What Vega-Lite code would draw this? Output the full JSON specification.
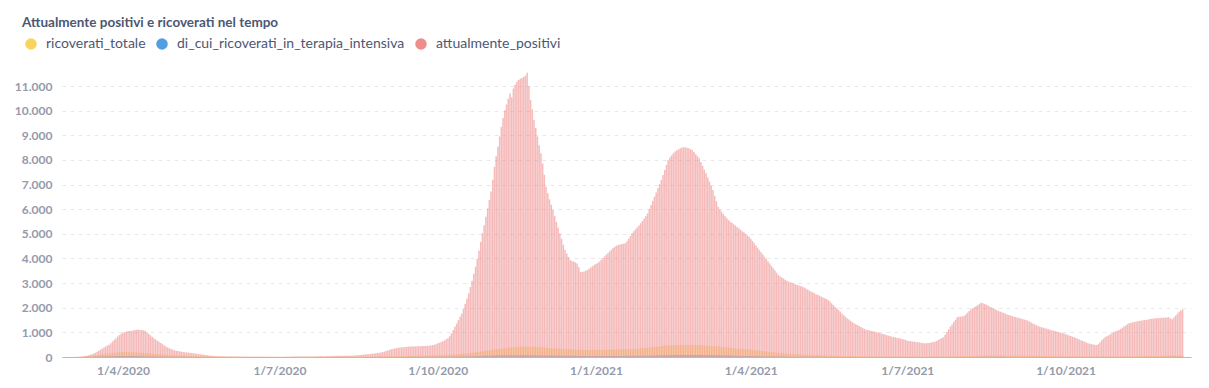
{
"$schema":"https://vega.github.io/schema/vega-lite/v6.json",
"width":1129,"height":285,
"autosize":{"type":"none"},
"padding":{"left":62,"top":72,"right":18,"bottom":31},
"background":"white",
"title":{"text":"Attualmente positivi e ricoverati nel tempo","anchor":"start","frame":"group","orient":"top","dx":-40,"offset":8,"font":"Lato","fontSize":13.5,"fontWeight":"bold","color":"#4C5773"},
"data":{"values":[
{"d":"2020-02-29","p":0,"r":0,"t":0},
{"d":"2020-03-01","p":0,"r":0,"t":0},{"d":"2020-03-02","p":1,"r":0,"t":0},{"d":"2020-03-03","p":3,"r":1,"t":0},{"d":"2020-03-04","p":5,"r":2,"t":0},{"d":"2020-03-05","p":8,"r":3,"t":1},{"d":"2020-03-06","p":10,"r":5,"t":1},{"d":"2020-03-07","p":15,"r":7,"t":2},{"d":"2020-03-08","p":20,"r":10,"t":3},{"d":"2020-03-09","p":28,"r":14,"t":4},{"d":"2020-03-10","p":40,"r":20,"t":5},
{"d":"2020-03-11","p":55,"r":26,"t":6},{"d":"2020-03-12","p":70,"r":33,"t":8},{"d":"2020-03-13","p":90,"r":40,"t":10},{"d":"2020-03-14","p":110,"r":48,"t":12},{"d":"2020-03-15","p":140,"r":56,"t":14},{"d":"2020-03-16","p":175,"r":65,"t":16},{"d":"2020-03-17","p":210,"r":75,"t":18},{"d":"2020-03-18","p":255,"r":85,"t":20},{"d":"2020-03-19","p":300,"r":95,"t":22},{"d":"2020-03-20","p":345,"r":105,"t":24},
{"d":"2020-03-21","p":390,"r":115,"t":26},{"d":"2020-03-22","p":430,"r":125,"t":28},{"d":"2020-03-23","p":465,"r":135,"t":30},{"d":"2020-03-24","p":500,"r":145,"t":32},{"d":"2020-03-25","p":560,"r":155,"t":34},{"d":"2020-03-26","p":630,"r":165,"t":36},{"d":"2020-03-27","p":700,"r":172,"t":38},{"d":"2020-03-28","p":760,"r":180,"t":40},{"d":"2020-03-29","p":830,"r":186,"t":41},{"d":"2020-03-30","p":890,"r":192,"t":42},{"d":"2020-03-31","p":940,"r":196,"t":43},
{"d":"2020-04-01","p":980,"r":198,"t":44},{"d":"2020-04-02","p":1010,"r":200,"t":45},{"d":"2020-04-03","p":1030,"r":200,"t":45},{"d":"2020-04-04","p":1045,"r":198,"t":44},{"d":"2020-04-05","p":1055,"r":195,"t":43},{"d":"2020-04-06","p":1065,"r":192,"t":42},{"d":"2020-04-07","p":1080,"r":188,"t":41},{"d":"2020-04-08","p":1095,"r":184,"t":40},{"d":"2020-04-09","p":1105,"r":180,"t":39},{"d":"2020-04-10","p":1110,"r":175,"t":38},
{"d":"2020-04-11","p":1100,"r":170,"t":36},{"d":"2020-04-12","p":1095,"r":165,"t":34},{"d":"2020-04-13","p":1080,"r":160,"t":32},{"d":"2020-04-14","p":1050,"r":155,"t":30},{"d":"2020-04-15","p":1000,"r":150,"t":28},{"d":"2020-04-16","p":940,"r":145,"t":26},{"d":"2020-04-17","p":880,"r":140,"t":24},{"d":"2020-04-18","p":820,"r":134,"t":22},{"d":"2020-04-19","p":760,"r":128,"t":20},{"d":"2020-04-20","p":710,"r":122,"t":19},
{"d":"2020-04-21","p":660,"r":116,"t":18},{"d":"2020-04-22","p":620,"r":110,"t":17},{"d":"2020-04-23","p":570,"r":104,"t":16},{"d":"2020-04-24","p":520,"r":98,"t":15},{"d":"2020-04-25","p":470,"r":93,"t":14},{"d":"2020-04-26","p":430,"r":88,"t":13},{"d":"2020-04-27","p":390,"r":83,"t":12},{"d":"2020-04-28","p":350,"r":78,"t":11},{"d":"2020-04-29","p":320,"r":74,"t":10},{"d":"2020-04-30","p":290,"r":70,"t":10},
{"d":"2020-05-01","p":270,"r":67,"t":9},{"d":"2020-05-02","p":255,"r":64,"t":9},{"d":"2020-05-03","p":240,"r":61,"t":8},{"d":"2020-05-04","p":225,"r":58,"t":8},{"d":"2020-05-05","p":215,"r":55,"t":7},{"d":"2020-05-06","p":205,"r":52,"t":7},{"d":"2020-05-07","p":195,"r":50,"t":6},{"d":"2020-05-08","p":185,"r":48,"t":6},{"d":"2020-05-09","p":178,"r":46,"t":6},{"d":"2020-05-10","p":170,"r":44,"t":5},
{"d":"2020-05-11","p":162,"r":42,"t":5},{"d":"2020-05-12","p":150,"r":40,"t":5},{"d":"2020-05-13","p":140,"r":38,"t":4},{"d":"2020-05-14","p":130,"r":36,"t":4},{"d":"2020-05-15","p":120,"r":34,"t":4},{"d":"2020-05-16","p":110,"r":32,"t":4},{"d":"2020-05-17","p":100,"r":30,"t":3},{"d":"2020-05-18","p":90,"r":29,"t":3},{"d":"2020-05-19","p":80,"r":28,"t":3},{"d":"2020-05-20","p":70,"r":27,"t":3},
{"d":"2020-05-21","p":60,"r":26,"t":3},{"d":"2020-05-22","p":50,"r":25,"t":2},{"d":"2020-05-23","p":42,"r":24,"t":2},{"d":"2020-05-24","p":38,"r":23,"t":2},{"d":"2020-05-25","p":35,"r":22,"t":2},{"d":"2020-05-26","p":32,"r":21,"t":2},{"d":"2020-05-27","p":30,"r":20,"t":2},{"d":"2020-05-28","p":28,"r":19,"t":2},{"d":"2020-05-29","p":26,"r":18,"t":1},{"d":"2020-05-30","p":25,"r":17,"t":1},{"d":"2020-05-31","p":24,"r":16,"t":1},
{"d":"2020-06-01","p":23,"r":15,"t":1},{"d":"2020-06-02","p":22,"r":15,"t":1},{"d":"2020-06-03","p":21,"r":14,"t":1},{"d":"2020-06-04","p":20,"r":14,"t":1},{"d":"2020-06-05","p":20,"r":13,"t":1},{"d":"2020-06-06","p":19,"r":13,"t":1},{"d":"2020-06-07","p":18,"r":12,"t":1},{"d":"2020-06-08","p":18,"r":12,"t":1},{"d":"2020-06-09","p":17,"r":11,"t":1},{"d":"2020-06-10","p":16,"r":11,"t":0},
{"d":"2020-06-11","p":16,"r":10,"t":0},{"d":"2020-06-12","p":15,"r":10,"t":0},{"d":"2020-06-13","p":15,"r":10,"t":0},{"d":"2020-06-14","p":14,"r":9,"t":0},{"d":"2020-06-15","p":14,"r":9,"t":0},{"d":"2020-06-16","p":13,"r":9,"t":0},{"d":"2020-06-17","p":13,"r":8,"t":0},{"d":"2020-06-18","p":12,"r":8,"t":0},{"d":"2020-06-19","p":12,"r":8,"t":0},{"d":"2020-06-20","p":12,"r":7,"t":0},
{"d":"2020-06-21","p":11,"r":7,"t":0},{"d":"2020-06-22","p":11,"r":7,"t":0},{"d":"2020-06-23","p":11,"r":6,"t":0},{"d":"2020-06-24","p":10,"r":6,"t":0},{"d":"2020-06-25","p":10,"r":6,"t":0},{"d":"2020-06-26","p":10,"r":6,"t":0},{"d":"2020-06-27","p":10,"r":5,"t":0},{"d":"2020-06-28","p":10,"r":5,"t":0},{"d":"2020-06-29","p":11,"r":5,"t":0},{"d":"2020-06-30","p":11,"r":5,"t":0},
{"d":"2020-07-01","p":12,"r":5,"t":0},{"d":"2020-07-02","p":12,"r":5,"t":0},{"d":"2020-07-03","p":13,"r":5,"t":0},{"d":"2020-07-04","p":13,"r":6,"t":0},{"d":"2020-07-05","p":14,"r":6,"t":0},{"d":"2020-07-06","p":15,"r":6,"t":0},{"d":"2020-07-07","p":15,"r":6,"t":0},{"d":"2020-07-08","p":16,"r":7,"t":0},{"d":"2020-07-09","p":16,"r":7,"t":0},{"d":"2020-07-10","p":17,"r":7,"t":0},
{"d":"2020-07-11","p":18,"r":7,"t":0},{"d":"2020-07-12","p":18,"r":8,"t":0},{"d":"2020-07-13","p":19,"r":8,"t":0},{"d":"2020-07-14","p":20,"r":8,"t":0},{"d":"2020-07-15","p":20,"r":8,"t":0},{"d":"2020-07-16","p":21,"r":9,"t":0},{"d":"2020-07-17","p":22,"r":9,"t":0},{"d":"2020-07-18","p":22,"r":9,"t":0},{"d":"2020-07-19","p":23,"r":10,"t":0},{"d":"2020-07-20","p":24,"r":10,"t":0},
{"d":"2020-07-21","p":25,"r":10,"t":0},{"d":"2020-07-22","p":26,"r":11,"t":0},{"d":"2020-07-23","p":27,"r":11,"t":0},{"d":"2020-07-24","p":28,"r":11,"t":0},{"d":"2020-07-25","p":30,"r":12,"t":0},{"d":"2020-07-26","p":31,"r":12,"t":1},{"d":"2020-07-27","p":33,"r":12,"t":1},{"d":"2020-07-28","p":35,"r":13,"t":1},{"d":"2020-07-29","p":37,"r":13,"t":1},{"d":"2020-07-30","p":40,"r":14,"t":1},{"d":"2020-07-31","p":42,"r":14,"t":1},
{"d":"2020-08-01","p":44,"r":14,"t":1},{"d":"2020-08-02","p":46,"r":15,"t":1},{"d":"2020-08-03","p":47,"r":15,"t":1},{"d":"2020-08-04","p":48,"r":15,"t":1},{"d":"2020-08-05","p":49,"r":16,"t":1},{"d":"2020-08-06","p":50,"r":16,"t":1},{"d":"2020-08-07","p":51,"r":16,"t":1},{"d":"2020-08-08","p":52,"r":17,"t":1},{"d":"2020-08-09","p":53,"r":17,"t":1},{"d":"2020-08-10","p":54,"r":17,"t":1},
{"d":"2020-08-11","p":55,"r":18,"t":1},{"d":"2020-08-12","p":57,"r":18,"t":1},{"d":"2020-08-13","p":60,"r":18,"t":1},{"d":"2020-08-14","p":64,"r":19,"t":1},{"d":"2020-08-15","p":68,"r":19,"t":1},{"d":"2020-08-16","p":73,"r":20,"t":1},{"d":"2020-08-17","p":80,"r":20,"t":2},{"d":"2020-08-18","p":88,"r":21,"t":2},{"d":"2020-08-19","p":96,"r":21,"t":2},{"d":"2020-08-20","p":104,"r":22,"t":2},
{"d":"2020-08-21","p":112,"r":22,"t":2},{"d":"2020-08-22","p":120,"r":23,"t":2},{"d":"2020-08-23","p":128,"r":23,"t":2},{"d":"2020-08-24","p":135,"r":24,"t":2},{"d":"2020-08-25","p":142,"r":24,"t":2},{"d":"2020-08-26","p":150,"r":25,"t":2},{"d":"2020-08-27","p":160,"r":26,"t":3},{"d":"2020-08-28","p":170,"r":27,"t":3},{"d":"2020-08-29","p":185,"r":28,"t":3},{"d":"2020-08-30","p":200,"r":29,"t":3},{"d":"2020-08-31","p":215,"r":30,"t":3},
{"d":"2020-09-01","p":240,"r":31,"t":3},{"d":"2020-09-02","p":265,"r":32,"t":3},{"d":"2020-09-03","p":290,"r":33,"t":3},{"d":"2020-09-04","p":312,"r":34,"t":4},{"d":"2020-09-05","p":330,"r":35,"t":4},{"d":"2020-09-06","p":345,"r":36,"t":4},{"d":"2020-09-07","p":360,"r":37,"t":4},{"d":"2020-09-08","p":372,"r":38,"t":4},{"d":"2020-09-09","p":382,"r":39,"t":5},{"d":"2020-09-10","p":390,"r":40,"t":5},
{"d":"2020-09-11","p":398,"r":41,"t":5},{"d":"2020-09-12","p":405,"r":42,"t":5},{"d":"2020-09-13","p":412,"r":43,"t":5},{"d":"2020-09-14","p":418,"r":44,"t":5},{"d":"2020-09-15","p":422,"r":45,"t":6},{"d":"2020-09-16","p":425,"r":46,"t":6},{"d":"2020-09-17","p":428,"r":47,"t":6},{"d":"2020-09-18","p":430,"r":48,"t":6},{"d":"2020-09-19","p":432,"r":49,"t":6},{"d":"2020-09-20","p":435,"r":50,"t":7},
{"d":"2020-09-21","p":438,"r":51,"t":7},{"d":"2020-09-22","p":442,"r":52,"t":7},{"d":"2020-09-23","p":446,"r":53,"t":7},{"d":"2020-09-24","p":450,"r":54,"t":8},{"d":"2020-09-25","p":455,"r":55,"t":8},{"d":"2020-09-26","p":460,"r":56,"t":8},{"d":"2020-09-27","p":470,"r":58,"t":8},{"d":"2020-09-28","p":485,"r":60,"t":9},{"d":"2020-09-29","p":500,"r":62,"t":9},{"d":"2020-09-30","p":520,"r":65,"t":9},
{"d":"2020-10-01","p":555,"r":68,"t":10},{"d":"2020-10-02","p":580,"r":71,"t":10},{"d":"2020-10-03","p":610,"r":74,"t":11},{"d":"2020-10-04","p":640,"r":77,"t":11},{"d":"2020-10-05","p":680,"r":80,"t":12},{"d":"2020-10-06","p":720,"r":84,"t":12},{"d":"2020-10-07","p":760,"r":88,"t":13},{"d":"2020-10-08","p":850,"r":92,"t":14},{"d":"2020-10-09","p":960,"r":96,"t":15},{"d":"2020-10-10","p":1090,"r":100,"t":16},
{"d":"2020-10-11","p":1230,"r":105,"t":17},{"d":"2020-10-12","p":1360,"r":110,"t":18},{"d":"2020-10-13","p":1500,"r":116,"t":19},{"d":"2020-10-14","p":1630,"r":122,"t":20},{"d":"2020-10-15","p":1770,"r":128,"t":21},{"d":"2020-10-16","p":1950,"r":135,"t":22},{"d":"2020-10-17","p":2150,"r":142,"t":24},{"d":"2020-10-18","p":2360,"r":150,"t":26},{"d":"2020-10-19","p":2585,"r":158,"t":28},{"d":"2020-10-20","p":2840,"r":166,"t":30},
{"d":"2020-10-21","p":3100,"r":175,"t":32},{"d":"2020-10-22","p":3380,"r":185,"t":34},{"d":"2020-10-23","p":3665,"r":195,"t":36},{"d":"2020-10-24","p":3990,"r":205,"t":38},{"d":"2020-10-25","p":4320,"r":215,"t":40},{"d":"2020-10-26","p":4670,"r":225,"t":42},{"d":"2020-10-27","p":5020,"r":235,"t":44},{"d":"2020-10-28","p":5350,"r":245,"t":46},{"d":"2020-10-29","p":5690,"r":255,"t":48},{"d":"2020-10-30","p":6030,"r":265,"t":50},{"d":"2020-10-31","p":6370,"r":275,"t":52},
{"d":"2020-11-01","p":6720,"r":285,"t":54},{"d":"2020-11-02","p":7200,"r":295,"t":56},{"d":"2020-11-03","p":7720,"r":305,"t":58},{"d":"2020-11-04","p":8150,"r":315,"t":60},{"d":"2020-11-05","p":8550,"r":325,"t":62},{"d":"2020-11-06","p":8950,"r":335,"t":64},{"d":"2020-11-07","p":9345,"r":345,"t":66},{"d":"2020-11-08","p":9700,"r":355,"t":67},{"d":"2020-11-09","p":10020,"r":365,"t":68},{"d":"2020-11-10","p":10250,"r":372,"t":69},
{"d":"2020-11-11","p":10480,"r":380,"t":70},{"d":"2020-11-12","p":10700,"r":387,"t":71},{"d":"2020-11-13","p":10550,"r":394,"t":72},{"d":"2020-11-14","p":10900,"r":400,"t":73},{"d":"2020-11-15","p":11050,"r":405,"t":73},{"d":"2020-11-16","p":11170,"r":410,"t":74},{"d":"2020-11-17","p":11250,"r":414,"t":74},{"d":"2020-11-18","p":11300,"r":418,"t":74},{"d":"2020-11-19","p":11330,"r":421,"t":74},{"d":"2020-11-20","p":11370,"r":424,"t":73},
{"d":"2020-11-21","p":11420,"r":426,"t":73},{"d":"2020-11-22","p":11540,"r":428,"t":72},{"d":"2020-11-23","p":11000,"r":428,"t":71},{"d":"2020-11-24","p":10430,"r":426,"t":70},{"d":"2020-11-25","p":10050,"r":422,"t":69},{"d":"2020-11-26","p":9620,"r":418,"t":68},{"d":"2020-11-27","p":9300,"r":413,"t":67},{"d":"2020-11-28","p":8950,"r":408,"t":66},{"d":"2020-11-29","p":8600,"r":402,"t":65},{"d":"2020-11-30","p":8270,"r":396,"t":64},
{"d":"2020-12-01","p":7850,"r":390,"t":63},{"d":"2020-12-02","p":7400,"r":384,"t":62},{"d":"2020-12-03","p":6910,"r":378,"t":61},{"d":"2020-12-04","p":6650,"r":372,"t":60},{"d":"2020-12-05","p":6400,"r":366,"t":59},{"d":"2020-12-06","p":6180,"r":360,"t":58},{"d":"2020-12-07","p":5970,"r":354,"t":57},{"d":"2020-12-08","p":5720,"r":349,"t":56},{"d":"2020-12-09","p":5480,"r":344,"t":55},{"d":"2020-12-10","p":5250,"r":339,"t":54},
{"d":"2020-12-11","p":5020,"r":334,"t":53},{"d":"2020-12-12","p":4800,"r":330,"t":52},{"d":"2020-12-13","p":4560,"r":326,"t":51},{"d":"2020-12-14","p":4340,"r":322,"t":50},{"d":"2020-12-15","p":4200,"r":318,"t":49},{"d":"2020-12-16","p":4060,"r":314,"t":48},{"d":"2020-12-17","p":3940,"r":310,"t":47},{"d":"2020-12-18","p":3900,"r":306,"t":46},{"d":"2020-12-19","p":3870,"r":302,"t":45},{"d":"2020-12-20","p":3840,"r":298,"t":44},
{"d":"2020-12-21","p":3800,"r":295,"t":43},{"d":"2020-12-22","p":3640,"r":292,"t":42},{"d":"2020-12-23","p":3460,"r":290,"t":42},{"d":"2020-12-24","p":3450,"r":288,"t":41},{"d":"2020-12-25","p":3470,"r":287,"t":41},{"d":"2020-12-26","p":3500,"r":286,"t":40},{"d":"2020-12-27","p":3530,"r":286,"t":40},{"d":"2020-12-28","p":3580,"r":287,"t":40},{"d":"2020-12-29","p":3630,"r":288,"t":40},{"d":"2020-12-30","p":3680,"r":289,"t":40},{"d":"2020-12-31","p":3735,"r":290,"t":40},
{"d":"2021-01-01","p":3780,"r":291,"t":40},{"d":"2021-01-02","p":3820,"r":292,"t":40},{"d":"2021-01-03","p":3870,"r":293,"t":40},{"d":"2021-01-04","p":3940,"r":294,"t":40},{"d":"2021-01-05","p":4005,"r":295,"t":41},{"d":"2021-01-06","p":4080,"r":296,"t":41},{"d":"2021-01-07","p":4150,"r":297,"t":41},{"d":"2021-01-08","p":4220,"r":298,"t":42},{"d":"2021-01-09","p":4290,"r":299,"t":42},{"d":"2021-01-10","p":4360,"r":300,"t":42},
{"d":"2021-01-11","p":4420,"r":302,"t":43},{"d":"2021-01-12","p":4480,"r":304,"t":43},{"d":"2021-01-13","p":4520,"r":306,"t":43},{"d":"2021-01-14","p":4550,"r":308,"t":44},{"d":"2021-01-15","p":4570,"r":310,"t":44},{"d":"2021-01-16","p":4590,"r":312,"t":44},{"d":"2021-01-17","p":4600,"r":314,"t":45},{"d":"2021-01-18","p":4615,"r":316,"t":45},{"d":"2021-01-19","p":4700,"r":318,"t":46},{"d":"2021-01-20","p":4800,"r":320,"t":46},
{"d":"2021-01-21","p":4910,"r":322,"t":47},{"d":"2021-01-22","p":5020,"r":324,"t":47},{"d":"2021-01-23","p":5100,"r":326,"t":48},{"d":"2021-01-24","p":5180,"r":330,"t":48},{"d":"2021-01-25","p":5260,"r":335,"t":49},{"d":"2021-01-26","p":5340,"r":340,"t":50},{"d":"2021-01-27","p":5430,"r":346,"t":51},{"d":"2021-01-28","p":5520,"r":352,"t":52},{"d":"2021-01-29","p":5620,"r":358,"t":53},{"d":"2021-01-30","p":5720,"r":365,"t":54},{"d":"2021-01-31","p":5835,"r":372,"t":55},
{"d":"2021-02-01","p":6000,"r":380,"t":56},{"d":"2021-02-02","p":6170,"r":388,"t":57},{"d":"2021-02-03","p":6340,"r":396,"t":58},{"d":"2021-02-04","p":6510,"r":404,"t":59},{"d":"2021-02-05","p":6680,"r":412,"t":60},{"d":"2021-02-06","p":6850,"r":420,"t":62},{"d":"2021-02-07","p":7020,"r":428,"t":64},{"d":"2021-02-08","p":7185,"r":436,"t":66},{"d":"2021-02-09","p":7390,"r":444,"t":68},{"d":"2021-02-10","p":7590,"r":452,"t":70},
{"d":"2021-02-11","p":7800,"r":458,"t":72},{"d":"2021-02-12","p":8000,"r":464,"t":74},{"d":"2021-02-13","p":8100,"r":469,"t":76},{"d":"2021-02-14","p":8190,"r":474,"t":77},{"d":"2021-02-15","p":8270,"r":478,"t":78},{"d":"2021-02-16","p":8340,"r":482,"t":79},{"d":"2021-02-17","p":8390,"r":485,"t":80},{"d":"2021-02-18","p":8430,"r":488,"t":81},{"d":"2021-02-19","p":8470,"r":490,"t":82},{"d":"2021-02-20","p":8500,"r":492,"t":83},
{"d":"2021-02-21","p":8515,"r":494,"t":84},{"d":"2021-02-22","p":8510,"r":495,"t":84},{"d":"2021-02-23","p":8490,"r":496,"t":85},{"d":"2021-02-24","p":8470,"r":496,"t":85},{"d":"2021-02-25","p":8440,"r":495,"t":85},{"d":"2021-02-26","p":8400,"r":494,"t":85},{"d":"2021-02-27","p":8320,"r":492,"t":84},{"d":"2021-02-28","p":8230,"r":490,"t":84},
{"d":"2021-03-01","p":8150,"r":487,"t":83},{"d":"2021-03-02","p":8065,"r":484,"t":83},{"d":"2021-03-03","p":7920,"r":480,"t":82},{"d":"2021-03-04","p":7760,"r":476,"t":81},{"d":"2021-03-05","p":7610,"r":471,"t":80},{"d":"2021-03-06","p":7455,"r":466,"t":79},{"d":"2021-03-07","p":7290,"r":461,"t":78},{"d":"2021-03-08","p":7120,"r":456,"t":77},{"d":"2021-03-09","p":6950,"r":450,"t":76},{"d":"2021-03-10","p":6780,"r":444,"t":75},
{"d":"2021-03-11","p":6550,"r":438,"t":74},{"d":"2021-03-12","p":6320,"r":431,"t":72},{"d":"2021-03-13","p":6100,"r":424,"t":70},{"d":"2021-03-14","p":5990,"r":417,"t":68},{"d":"2021-03-15","p":5900,"r":410,"t":66},{"d":"2021-03-16","p":5810,"r":403,"t":64},{"d":"2021-03-17","p":5720,"r":396,"t":62},{"d":"2021-03-18","p":5640,"r":389,"t":60},{"d":"2021-03-19","p":5560,"r":382,"t":58},{"d":"2021-03-20","p":5500,"r":375,"t":56},
{"d":"2021-03-21","p":5450,"r":368,"t":54},{"d":"2021-03-22","p":5390,"r":361,"t":52},{"d":"2021-03-23","p":5340,"r":354,"t":50},{"d":"2021-03-24","p":5280,"r":347,"t":48},{"d":"2021-03-25","p":5225,"r":340,"t":46},{"d":"2021-03-26","p":5170,"r":333,"t":44},{"d":"2021-03-27","p":5110,"r":327,"t":42},{"d":"2021-03-28","p":5060,"r":321,"t":40},{"d":"2021-03-29","p":5000,"r":315,"t":39},{"d":"2021-03-30","p":4940,"r":308,"t":38},{"d":"2021-03-31","p":4885,"r":301,"t":37},
{"d":"2021-04-01","p":4800,"r":294,"t":36},{"d":"2021-04-02","p":4710,"r":286,"t":35},{"d":"2021-04-03","p":4620,"r":278,"t":34},{"d":"2021-04-04","p":4530,"r":270,"t":33},{"d":"2021-04-05","p":4440,"r":262,"t":32},{"d":"2021-04-06","p":4340,"r":254,"t":31},{"d":"2021-04-07","p":4250,"r":246,"t":30},{"d":"2021-04-08","p":4160,"r":238,"t":29},{"d":"2021-04-09","p":4070,"r":230,"t":28},{"d":"2021-04-10","p":3980,"r":222,"t":27},
{"d":"2021-04-11","p":3890,"r":214,"t":26},{"d":"2021-04-12","p":3800,"r":206,"t":25},{"d":"2021-04-13","p":3700,"r":198,"t":24},{"d":"2021-04-14","p":3610,"r":190,"t":23},{"d":"2021-04-15","p":3510,"r":182,"t":22},{"d":"2021-04-16","p":3420,"r":175,"t":21},{"d":"2021-04-17","p":3330,"r":168,"t":20},{"d":"2021-04-18","p":3280,"r":161,"t":19},{"d":"2021-04-19","p":3230,"r":154,"t":18},{"d":"2021-04-20","p":3190,"r":148,"t":17},
{"d":"2021-04-21","p":3140,"r":142,"t":16},{"d":"2021-04-22","p":3100,"r":136,"t":15},{"d":"2021-04-23","p":3060,"r":130,"t":14},{"d":"2021-04-24","p":3030,"r":125,"t":13},{"d":"2021-04-25","p":3000,"r":120,"t":12},{"d":"2021-04-26","p":2975,"r":115,"t":12},{"d":"2021-04-27","p":2950,"r":110,"t":11},{"d":"2021-04-28","p":2925,"r":106,"t":11},{"d":"2021-04-29","p":2900,"r":102,"t":10},{"d":"2021-04-30","p":2880,"r":98,"t":10},
{"d":"2021-05-01","p":2855,"r":95,"t":10},{"d":"2021-05-02","p":2820,"r":92,"t":9},{"d":"2021-05-03","p":2780,"r":89,"t":9},{"d":"2021-05-04","p":2740,"r":86,"t":9},{"d":"2021-05-05","p":2700,"r":83,"t":8},{"d":"2021-05-06","p":2660,"r":80,"t":8},{"d":"2021-05-07","p":2620,"r":77,"t":8},{"d":"2021-05-08","p":2585,"r":74,"t":7},{"d":"2021-05-09","p":2550,"r":71,"t":7},{"d":"2021-05-10","p":2520,"r":68,"t":7},
{"d":"2021-05-11","p":2490,"r":66,"t":6},{"d":"2021-05-12","p":2450,"r":64,"t":6},{"d":"2021-05-13","p":2420,"r":62,"t":6},{"d":"2021-05-14","p":2380,"r":60,"t":6},{"d":"2021-05-15","p":2350,"r":58,"t":5},{"d":"2021-05-16","p":2315,"r":56,"t":5},{"d":"2021-05-17","p":2250,"r":54,"t":5},{"d":"2021-05-18","p":2180,"r":52,"t":5},{"d":"2021-05-19","p":2110,"r":50,"t":5},{"d":"2021-05-20","p":2040,"r":48,"t":4},
{"d":"2021-05-21","p":1975,"r":46,"t":4},{"d":"2021-05-22","p":1910,"r":45,"t":4},{"d":"2021-05-23","p":1840,"r":44,"t":4},{"d":"2021-05-24","p":1770,"r":43,"t":4},{"d":"2021-05-25","p":1700,"r":42,"t":4},{"d":"2021-05-26","p":1635,"r":41,"t":3},{"d":"2021-05-27","p":1570,"r":40,"t":3},{"d":"2021-05-28","p":1520,"r":39,"t":3},{"d":"2021-05-29","p":1470,"r":38,"t":3},{"d":"2021-05-30","p":1420,"r":37,"t":3},{"d":"2021-05-31","p":1370,"r":36,"t":3},
{"d":"2021-06-01","p":1330,"r":35,"t":3},{"d":"2021-06-02","p":1300,"r":34,"t":3},{"d":"2021-06-03","p":1260,"r":33,"t":3},{"d":"2021-06-04","p":1220,"r":32,"t":2},{"d":"2021-06-05","p":1180,"r":31,"t":2},{"d":"2021-06-06","p":1140,"r":30,"t":2},{"d":"2021-06-07","p":1110,"r":29,"t":2},{"d":"2021-06-08","p":1095,"r":28,"t":2},{"d":"2021-06-09","p":1080,"r":27,"t":2},{"d":"2021-06-10","p":1060,"r":26,"t":2},
{"d":"2021-06-11","p":1045,"r":25,"t":2},{"d":"2021-06-12","p":1030,"r":24,"t":2},{"d":"2021-06-13","p":1010,"r":24,"t":2},{"d":"2021-06-14","p":990,"r":23,"t":2},{"d":"2021-06-15","p":970,"r":23,"t":1},{"d":"2021-06-16","p":950,"r":22,"t":1},{"d":"2021-06-17","p":930,"r":22,"t":1},{"d":"2021-06-18","p":910,"r":21,"t":1},{"d":"2021-06-19","p":890,"r":21,"t":1},{"d":"2021-06-20","p":870,"r":20,"t":1},
{"d":"2021-06-21","p":850,"r":20,"t":1},{"d":"2021-06-22","p":825,"r":19,"t":1},{"d":"2021-06-23","p":810,"r":19,"t":1},{"d":"2021-06-24","p":795,"r":18,"t":1},{"d":"2021-06-25","p":780,"r":18,"t":1},{"d":"2021-06-26","p":765,"r":18,"t":1},{"d":"2021-06-27","p":750,"r":17,"t":1},{"d":"2021-06-28","p":730,"r":17,"t":1},{"d":"2021-06-29","p":710,"r":17,"t":1},{"d":"2021-06-30","p":690,"r":16,"t":1},
{"d":"2021-07-01","p":660,"r":16,"t":1},{"d":"2021-07-02","p":650,"r":16,"t":1},{"d":"2021-07-03","p":640,"r":16,"t":1},{"d":"2021-07-04","p":630,"r":15,"t":1},{"d":"2021-07-05","p":620,"r":15,"t":1},{"d":"2021-07-06","p":610,"r":15,"t":1},{"d":"2021-07-07","p":600,"r":15,"t":1},{"d":"2021-07-08","p":590,"r":15,"t":1},{"d":"2021-07-09","p":575,"r":15,"t":1},{"d":"2021-07-10","p":565,"r":15,"t":1},
{"d":"2021-07-11","p":555,"r":16,"t":1},{"d":"2021-07-12","p":560,"r":16,"t":1},{"d":"2021-07-13","p":565,"r":16,"t":1},{"d":"2021-07-14","p":575,"r":17,"t":1},{"d":"2021-07-15","p":590,"r":17,"t":1},{"d":"2021-07-16","p":605,"r":18,"t":1},{"d":"2021-07-17","p":620,"r":18,"t":1},{"d":"2021-07-18","p":650,"r":19,"t":1},{"d":"2021-07-19","p":690,"r":20,"t":1},{"d":"2021-07-20","p":730,"r":21,"t":2},
{"d":"2021-07-21","p":770,"r":22,"t":2},{"d":"2021-07-22","p":800,"r":23,"t":2},{"d":"2021-07-23","p":900,"r":24,"t":2},{"d":"2021-07-24","p":1010,"r":25,"t":2},{"d":"2021-07-25","p":1120,"r":26,"t":2},{"d":"2021-07-26","p":1230,"r":27,"t":3},{"d":"2021-07-27","p":1320,"r":28,"t":3},{"d":"2021-07-28","p":1420,"r":29,"t":3},{"d":"2021-07-29","p":1510,"r":30,"t":3},{"d":"2021-07-30","p":1610,"r":31,"t":3},{"d":"2021-07-31","p":1630,"r":32,"t":3},
{"d":"2021-08-01","p":1640,"r":33,"t":3},{"d":"2021-08-02","p":1650,"r":34,"t":4},{"d":"2021-08-03","p":1665,"r":35,"t":4},{"d":"2021-08-04","p":1730,"r":36,"t":4},{"d":"2021-08-05","p":1800,"r":37,"t":4},{"d":"2021-08-06","p":1870,"r":38,"t":5},{"d":"2021-08-07","p":1935,"r":39,"t":5},{"d":"2021-08-08","p":1980,"r":40,"t":5},{"d":"2021-08-09","p":2020,"r":41,"t":5},{"d":"2021-08-10","p":2060,"r":42,"t":5},
{"d":"2021-08-11","p":2110,"r":43,"t":6},{"d":"2021-08-12","p":2160,"r":44,"t":6},{"d":"2021-08-13","p":2205,"r":45,"t":6},{"d":"2021-08-14","p":2180,"r":46,"t":6},{"d":"2021-08-15","p":2150,"r":47,"t":6},{"d":"2021-08-16","p":2120,"r":48,"t":6},{"d":"2021-08-17","p":2080,"r":49,"t":6},{"d":"2021-08-18","p":2040,"r":50,"t":6},{"d":"2021-08-19","p":2010,"r":50,"t":6},{"d":"2021-08-20","p":1970,"r":51,"t":6},
{"d":"2021-08-21","p":1940,"r":51,"t":6},{"d":"2021-08-22","p":1900,"r":52,"t":6},{"d":"2021-08-23","p":1870,"r":52,"t":6},{"d":"2021-08-24","p":1840,"r":52,"t":6},{"d":"2021-08-25","p":1820,"r":53,"t":6},{"d":"2021-08-26","p":1790,"r":53,"t":6},{"d":"2021-08-27","p":1760,"r":53,"t":6},{"d":"2021-08-28","p":1730,"r":53,"t":5},{"d":"2021-08-29","p":1700,"r":53,"t":5},{"d":"2021-08-30","p":1680,"r":53,"t":5},{"d":"2021-08-31","p":1660,"r":52,"t":5},
{"d":"2021-09-01","p":1635,"r":52,"t":5},{"d":"2021-09-02","p":1620,"r":52,"t":5},{"d":"2021-09-03","p":1600,"r":51,"t":5},{"d":"2021-09-04","p":1580,"r":51,"t":5},{"d":"2021-09-05","p":1560,"r":50,"t":5},{"d":"2021-09-06","p":1540,"r":50,"t":5},{"d":"2021-09-07","p":1520,"r":49,"t":5},{"d":"2021-09-08","p":1500,"r":49,"t":5},{"d":"2021-09-09","p":1475,"r":48,"t":5},{"d":"2021-09-10","p":1440,"r":48,"t":4},
{"d":"2021-09-11","p":1400,"r":47,"t":4},{"d":"2021-09-12","p":1360,"r":46,"t":4},{"d":"2021-09-13","p":1320,"r":45,"t":4},{"d":"2021-09-14","p":1290,"r":44,"t":4},{"d":"2021-09-15","p":1260,"r":43,"t":4},{"d":"2021-09-16","p":1230,"r":42,"t":4},{"d":"2021-09-17","p":1210,"r":41,"t":4},{"d":"2021-09-18","p":1190,"r":40,"t":4},{"d":"2021-09-19","p":1170,"r":39,"t":4},{"d":"2021-09-20","p":1150,"r":38,"t":4},
{"d":"2021-09-21","p":1130,"r":37,"t":3},{"d":"2021-09-22","p":1110,"r":36,"t":3},{"d":"2021-09-23","p":1090,"r":35,"t":3},{"d":"2021-09-24","p":1070,"r":34,"t":3},{"d":"2021-09-25","p":1050,"r":33,"t":3},{"d":"2021-09-26","p":1030,"r":32,"t":3},{"d":"2021-09-27","p":1010,"r":31,"t":3},{"d":"2021-09-28","p":990,"r":30,"t":3},{"d":"2021-09-29","p":970,"r":30,"t":3},{"d":"2021-09-30","p":950,"r":29,"t":3},
{"d":"2021-10-01","p":930,"r":29,"t":3},{"d":"2021-10-02","p":900,"r":28,"t":3},{"d":"2021-10-03","p":870,"r":28,"t":3},{"d":"2021-10-04","p":850,"r":27,"t":3},{"d":"2021-10-05","p":825,"r":27,"t":3},{"d":"2021-10-06","p":800,"r":26,"t":3},{"d":"2021-10-07","p":770,"r":26,"t":3},{"d":"2021-10-08","p":740,"r":25,"t":3},{"d":"2021-10-09","p":710,"r":25,"t":3},{"d":"2021-10-10","p":680,"r":24,"t":3},
{"d":"2021-10-11","p":650,"r":24,"t":3},{"d":"2021-10-12","p":620,"r":24,"t":3},{"d":"2021-10-13","p":590,"r":23,"t":3},{"d":"2021-10-14","p":555,"r":23,"t":3},{"d":"2021-10-15","p":540,"r":23,"t":3},{"d":"2021-10-16","p":525,"r":22,"t":3},{"d":"2021-10-17","p":510,"r":22,"t":3},{"d":"2021-10-18","p":495,"r":22,"t":3},{"d":"2021-10-19","p":487,"r":22,"t":3},{"d":"2021-10-20","p":520,"r":22,"t":3},
{"d":"2021-10-21","p":600,"r":22,"t":3},{"d":"2021-10-22","p":680,"r":23,"t":3},{"d":"2021-10-23","p":740,"r":23,"t":3},{"d":"2021-10-24","p":800,"r":23,"t":3},{"d":"2021-10-25","p":840,"r":24,"t":3},{"d":"2021-10-26","p":880,"r":24,"t":3},{"d":"2021-10-27","p":920,"r":25,"t":3},{"d":"2021-10-28","p":960,"r":25,"t":3},{"d":"2021-10-29","p":1000,"r":26,"t":3},{"d":"2021-10-30","p":1040,"r":26,"t":3},{"d":"2021-10-31","p":1070,"r":27,"t":3},
{"d":"2021-11-01","p":1095,"r":27,"t":3},{"d":"2021-11-02","p":1140,"r":28,"t":3},{"d":"2021-11-03","p":1190,"r":28,"t":3},{"d":"2021-11-04","p":1240,"r":29,"t":3},{"d":"2021-11-05","p":1280,"r":29,"t":3},{"d":"2021-11-06","p":1330,"r":30,"t":3},{"d":"2021-11-07","p":1370,"r":30,"t":3},{"d":"2021-11-08","p":1390,"r":31,"t":4},{"d":"2021-11-09","p":1410,"r":31,"t":4},{"d":"2021-11-10","p":1425,"r":32,"t":4},
{"d":"2021-11-11","p":1440,"r":32,"t":4},{"d":"2021-11-12","p":1455,"r":33,"t":4},{"d":"2021-11-13","p":1465,"r":33,"t":4},{"d":"2021-11-14","p":1475,"r":34,"t":4},{"d":"2021-11-15","p":1490,"r":35,"t":4},{"d":"2021-11-16","p":1500,"r":36,"t":4},{"d":"2021-11-17","p":1510,"r":37,"t":5},{"d":"2021-11-18","p":1525,"r":38,"t":5},{"d":"2021-11-19","p":1540,"r":39,"t":5},{"d":"2021-11-20","p":1550,"r":40,"t":5},
{"d":"2021-11-21","p":1560,"r":41,"t":5},{"d":"2021-11-22","p":1570,"r":42,"t":5},{"d":"2021-11-23","p":1575,"r":43,"t":5},{"d":"2021-11-24","p":1580,"r":44,"t":5},{"d":"2021-11-25","p":1585,"r":45,"t":5},{"d":"2021-11-26","p":1590,"r":46,"t":6},{"d":"2021-11-27","p":1595,"r":47,"t":6},{"d":"2021-11-28","p":1600,"r":48,"t":6},{"d":"2021-11-29","p":1605,"r":49,"t":6},{"d":"2021-11-30","p":1610,"r":50,"t":6},
{"d":"2021-12-01","p":1560,"r":51,"t":6},{"d":"2021-12-02","p":1530,"r":52,"t":6},{"d":"2021-12-03","p":1600,"r":53,"t":6},{"d":"2021-12-04","p":1680,"r":54,"t":6},{"d":"2021-12-05","p":1760,"r":55,"t":6},{"d":"2021-12-06","p":1840,"r":56,"t":6},{"d":"2021-12-07","p":1890,"r":57,"t":6},{"d":"2021-12-08","p":1935,"r":58,"t":6}
]},
"transform":[{"fold":["r","t","p"],"as":["k","v"]}],
"mark":{"type":"bar","width":1.5,"opacity":0.6},
"encoding":{
"x":{"field":"d","type":"temporal","scale":{"type":"utc","domain":[{"year":2020,"month":2,"date":28,"hours":12,"utc":true},{"year":2021,"month":12,"date":10,"utc":true}]},
"axis":{"title":null,"grid":false,"ticks":false,"zindex":1,"domainColor":"#B8BBC3","labelFont":"Lato","labelFontSize":12,"labelFontWeight":"bold","labelColor":"#949AAB","labelPadding":8,"labelFlush":false,
"values":[{"year":2020,"month":4,"date":1,"utc":true},{"year":2020,"month":7,"date":1,"utc":true},{"year":2020,"month":10,"date":1,"utc":true},{"year":2021,"month":1,"date":1,"utc":true},{"year":2021,"month":4,"date":1,"utc":true},{"year":2021,"month":7,"date":1,"utc":true},{"year":2021,"month":10,"date":1,"utc":true}],
"labelExpr":"utcFormat(datum.value, '%-d/%-m/%Y')"}},
"y":{"field":"v","type":"quantitative","stack":null,"scale":{"domain":[0,11570],"nice":false},
"axis":{"title":null,"domain":false,"ticks":false,"grid":true,"gridDash":[4,4],"gridColor":"#E6E8EC","labelFont":"Lato","labelFontSize":12,"labelFontWeight":"bold","labelColor":"#949AAB","labelPadding":10,
"values":[0,1000,2000,3000,4000,5000,6000,7000,8000,9000,10000,11000],
"labelExpr":"replace(format(datum.value, ','), ',', '.')"}},
"color":{"field":"k","type":"nominal","sort":["r","t","p"],"scale":{"domain":["r","t","p"],"range":["#F9D45C","#509EE3","#EF8C8C"]},
"legend":{"title":null,"orient":"none","legendX":-38,"legendY":-35,"direction":"horizontal","symbolType":"circle","symbolSize":133,"symbolOpacity":1,"symbolStrokeWidth":0,"labelFont":"Lato","labelFontSize":14,"labelColor":"#4C5773","labelOffset":8,"labelLimit":0,"columnPadding":9,
"labelExpr":"datum.label == 'r' ? 'ricoverati_totale' : datum.label == 't' ? 'di_cui_ricoverati_in_terapia_intensiva' : 'attualmente_positivi'"}}
},
"config":{"view":{"stroke":null}}
}
